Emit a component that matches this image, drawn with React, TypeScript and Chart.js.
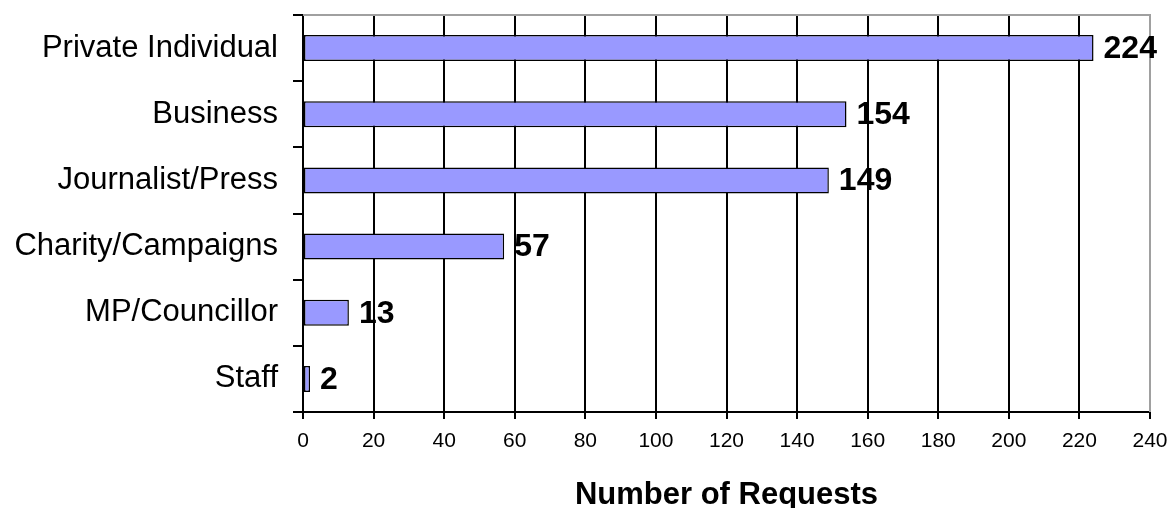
import React, { useEffect, useRef } from "react";
import { Chart, registerables } from "chart.js";

Chart.register(...registerables);

const categories = [
  "Private Individual",
  "Business",
  "Journalist/Press",
  "Charity/Campaigns",
  "MP/Councillor",
  "Staff",
];
const requestCounts = [224, 154, 149, 57, 13, 2];
const axisTitle = "Number of Requests";
const xMin = 0;
const xMax = 240;
const xStep = 20;

const FONT = "'Liberation Sans', Arial, Helvetica, sans-serif";

const valueLabelPlugin = {
  id: "valueLabels",
  afterDatasetsDraw(chart: any) {
    const ctx = chart.ctx;
    const meta = chart.getDatasetMeta(0);
    ctx.save();
    ctx.font = `bold 32px ${FONT}`;
    ctx.fillStyle = "#000";
    ctx.textAlign = "left";
    ctx.textBaseline = "middle";
    meta.data.forEach((bar: any, i: number) => {
      ctx.fillText(String(requestCounts[i]), bar.x + 10, bar.y + 1);
    });
    ctx.restore();
  },
};

const frameplugin = {
  id: "frameBorder",
  beforeDatasetsDraw(chart: any) {
    const { ctx, chartArea } = chart;
    ctx.save();
    ctx.strokeStyle = "#a0a0a0";
    ctx.lineWidth = 2;
    ctx.beginPath();
    ctx.moveTo(chartArea.left, chartArea.top);
    ctx.lineTo(chartArea.right, chartArea.top);
    ctx.lineTo(chartArea.right, chartArea.bottom);
    ctx.stroke();
    ctx.restore();
  },
};

export default function App() {
  const canvasRef = useRef<HTMLCanvasElement | null>(null);

  useEffect(() => {
    if (!canvasRef.current) return;
    const chart = new Chart(canvasRef.current, {
      type: "bar",
      data: {
        labels: categories,
        datasets: [
          {
            data: requestCounts,
            backgroundColor: "#9999ff",
            borderColor: "#000000",
            borderWidth: 1.5,
            borderSkipped: false,
            categoryPercentage: 1,
            barPercentage: 0.393,
          },
        ],
      },
      options: {
        indexAxis: "y",
        responsive: false,
        animation: false,
        layout: { padding: { top: 15, right: 22, left: 0, bottom: 0 } },
        plugins: {
          legend: { display: false },
          tooltip: { enabled: false },
          title: { display: false },
        },
        scales: {
          x: {
            type: "linear",
            min: xMin,
            max: xMax,
            ticks: {
              stepSize: xStep,
              color: "#000",
              font: { family: FONT, size: 21 },
              padding: 10,
              maxRotation: 0,
            },
            grid: {
              color: (c: any) => (c.tick && c.tick.value === xMax ? "#a0a0a0" : "#000"),
              tickColor: "#000",
              lineWidth: 2,
              tickLength: 7,
              drawTicks: true,
            },
            border: { display: true, color: "#000", width: 2 },
            title: {
              display: true,
              text: axisTitle,
              color: "#000",
              font: { family: FONT, size: 31, weight: "bold", lineHeight: 0.8 },
              padding: { top: 0, bottom: 0 },
            },
            afterFit(scale: any) {
              scale.height = 96;
              scale.paddingLeft = 0;
              scale.paddingRight = 0;
            },
          },
          y: {
            type: "category",
            ticks: {
              color: "#000",
              font: { family: FONT, size: 31 },
              padding: 15,
            },
            grid: {
              offset: true,
              drawOnChartArea: false,
              drawTicks: true,
              tickLength: 10,
              color: "#000",
              lineWidth: 2,
            },
            border: { display: true, color: "#000", width: 2 },
            afterFit(scale: any) {
              scale.width = 303;
              scale.paddingTop = 0;
              scale.paddingBottom = 0;
            },
          },
        },
      },
      plugins: [frameplugin, valueLabelPlugin],
    } as any);
    return () => chart.destroy();
  }, []);

  return (
    <div style={{ position: "fixed", left: 0, top: 0, width: 1172, height: 508, background: "#fff" }}>
      <canvas ref={canvasRef} width={1172} height={508} style={{ display: "block" }} />
    </div>
  );
}
